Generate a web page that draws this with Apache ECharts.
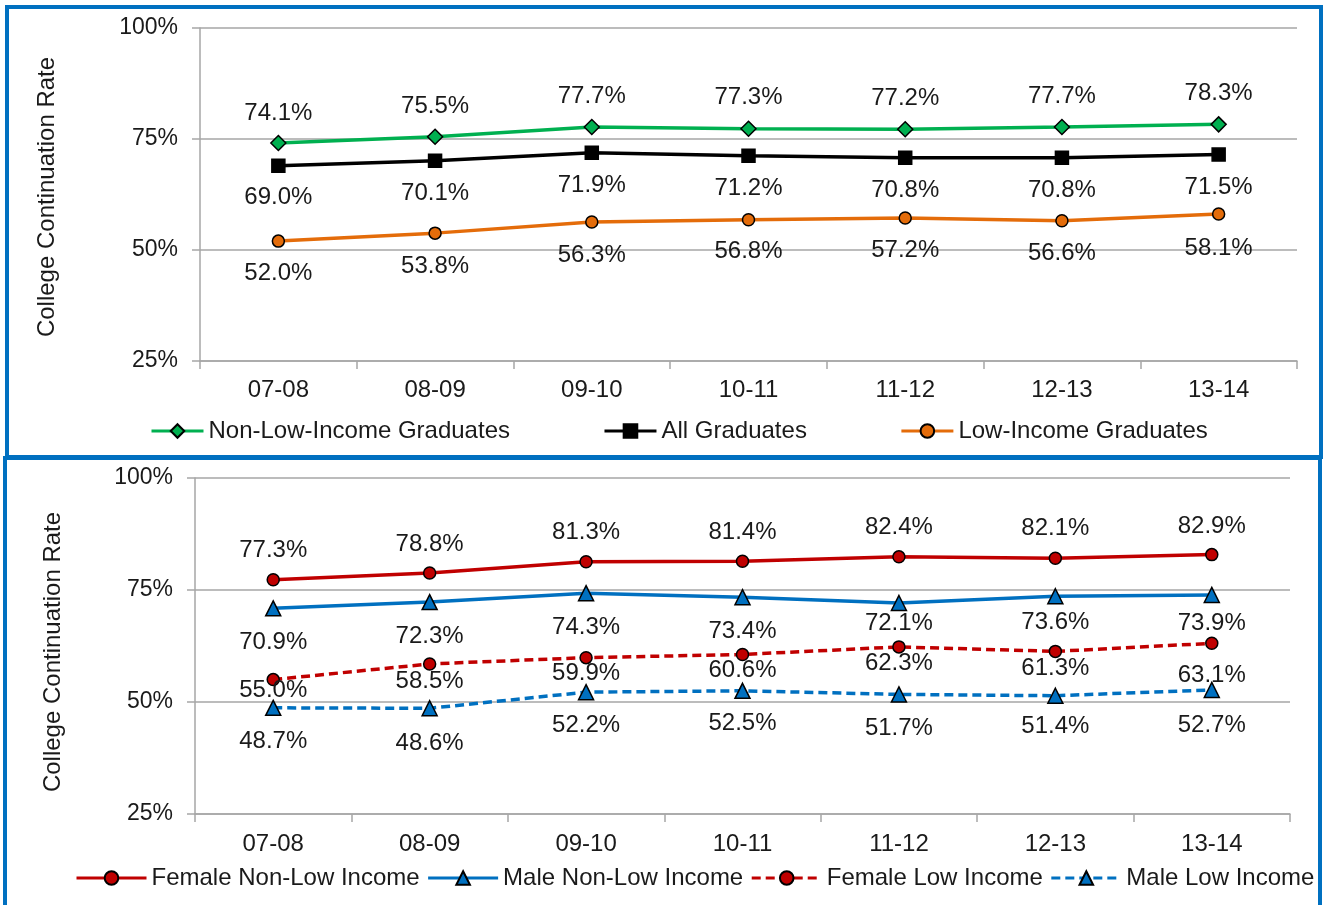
<!DOCTYPE html>
<html>
<head>
<meta charset="utf-8">
<script src="https://cdn.jsdelivr.net/npm/echarts@6/dist/echarts.min.js"></script>
<style>
html,body{margin:0;padding:0;background:#fff;}
#c{width:1325px;height:905px;}
</style>
</head>
<body>
<div id="c"></div>
<script>
// ---- Data ----
const categories = ['07-08', '08-09', '09-10', '10-11', '11-12', '12-13', '13-14'];
const yTicks = [25, 50, 75, 100];

const nonLowIncome = [74.1, 75.5, 77.7, 77.3, 77.2, 77.7, 78.3];
const allGraduates = [69.0, 70.1, 71.9, 71.2, 70.8, 70.8, 71.5];
const lowIncome = [52.0, 53.8, 56.3, 56.8, 57.2, 56.6, 58.1];

const femaleNonLow = [77.3, 78.8, 81.3, 81.4, 82.4, 82.1, 82.9];
const maleNonLow = [70.9, 72.3, 74.3, 73.4, 72.1, 73.6, 73.9];
const femaleLow = [55.0, 58.5, 59.9, 60.6, 62.3, 61.3, 63.1];
const maleLow = [48.7, 48.6, 52.2, 52.5, 51.7, 51.4, 52.7];

// ---- Layout (label vertical offsets from marker centre, px) ----
const dyNonLow = [-30, -30, -31, -31, -31, -31, -31];
const dyAll = [32, 33, 33, 33, 33, 33, 33];
const dyLow = [32, 33, 33, 32, 32, 33, 34];
const dyFemaleNonLow = [-29, -29, -29, -29, -29, -30, -28];
const dyMaleNonLow = [34, 34, 34, 34, 20, 26, 28];
const dyFemaleLow = [11, 17, 16, 16, 16, 17, 32];
const dyMaleLow = [34, 35, 33, 33, 34, 31, 35];

const FONT = '"Liberation Sans", Arial, sans-serif';
const TXT = '#1a1a1a';
const GRID = '#a6a6a6';
const FS = 24;

function withLabels(values, dys) {
  return values.map((v, i) => ({
    value: v,
    label: { offset: [0, dys[i]] }
  }));
}

function mkSeries(name, values, dys, idx, color, symbol, size, dashed) {
  return {
    name: name,
    type: 'line',
    xAxisIndex: idx,
    yAxisIndex: idx,
    data: withLabels(values, dys),
    symbol: symbol,
    symbolSize: size,
    lineStyle: { color: color, width: 3.5, type: dashed ? [9, 5] : 'solid' },
    itemStyle: { color: color, borderColor: '#000', borderWidth: 1.5 },
    emphasis: { disabled: true },
    animation: false,
    label: {
      show: true,
      position: 'inside',
      formatter: p => p.value.toFixed(1) + '%',
      color: TXT,
      fontFamily: FONT,
      fontSize: FS
    },
    z: 3
  };
}

function xAxis(idx, margin) {
  return {
    type: 'category',
    gridIndex: idx,
    data: categories,
    boundaryGap: true,
    axisLine: { show: true, lineStyle: { color: GRID, width: 1.5 } },
    axisTick: { show: true, length: 8, alignWithLabel: false, lineStyle: { color: GRID, width: 1.5 } },
    axisLabel: { color: TXT, fontFamily: FONT, fontSize: FS, margin: margin, interval: 0 },
    splitLine: { show: false }
  };
}

function yAxis(idx, gap, shift) {
  return {
    type: 'value',
    gridIndex: idx,
    min: yTicks[0],
    max: yTicks[yTicks.length - 1],
    interval: yTicks[1] - yTicks[0],
    name: 'College Continuation Rate',
    nameLocation: 'middle',
    nameRotate: 90,
    nameGap: gap,
    nameTextStyle: { color: TXT, fontFamily: FONT, fontSize: FS, padding: [0, shift, 0, 0] },
    axisLine: { show: true, lineStyle: { color: GRID, width: 1.5 } },
    axisTick: { show: true, length: 8, lineStyle: { color: GRID, width: 1.5 } },
    axisLabel: { color: TXT, fontFamily: FONT, fontSize: 23, margin: 22, formatter: '{value}%' },
    splitLine: { show: true, lineStyle: { color: GRID, width: 1.5 } }
  };
}

const chart = echarts.init(document.getElementById('c'), null, { renderer: 'canvas' });

const option = {
  backgroundColor: '#fff',
  animation: false,
  grid: [
    { left: 200, top: 28, width: 1097, height: 333, containLabel: false },
    { left: 195, top: 478, width: 1095, height: 336, containLabel: false }
  ],
  xAxis: [xAxis(0, 17), xAxis(1, 18)],
  yAxis: [yAxis(0, 141, 5), yAxis(1, 130, 12)],
  legend: [
    {
      left: 150, top: 419, padding: 0,
      itemWidth: 52, itemHeight: 17, itemGap: 93,
      lineStyle: { width: 3 },
      textStyle: { color: TXT, fontFamily: FONT, fontSize: FS },
      data: ['Non-Low-Income Graduates', 'All Graduates', 'Low-Income Graduates'],
      selectedMode: false
    },
    {
      left: 75, top: 866, padding: 0,
      itemWidth: 70, itemHeight: 17, itemGap: 7,
      lineStyle: { width: 3 },
      textStyle: { color: TXT, fontFamily: FONT, fontSize: FS },
      data: ['Female Non-Low Income', 'Male Non-Low Income', 'Female Low Income', 'Male Low Income'],
      selectedMode: false
    }
  ],
  graphic: [
    { type: 'rect', shape: { x: 7, y: 7, width: 1314, height: 450 }, style: { fill: 'none', stroke: '#0070C0', lineWidth: 4 }, z: 10 },
    { type: 'rect', shape: { x: 5, y: 458, width: 1315, height: 470 }, style: { fill: 'none', stroke: '#0070C0', lineWidth: 4 }, z: 10 }
  ],
  series: [
    mkSeries('Non-Low-Income Graduates', nonLowIncome, dyNonLow, 0, '#00B050', 'diamond', 15, false),
    mkSeries('All Graduates', allGraduates, dyAll, 0, '#000000', 'rect', 13, false),
    mkSeries('Low-Income Graduates', lowIncome, dyLow, 0, '#E46C0A', 'circle', 12, false),
    mkSeries('Female Non-Low Income', femaleNonLow, dyFemaleNonLow, 1, '#C00000', 'circle', 12, false),
    mkSeries('Male Non-Low Income', maleNonLow, dyMaleNonLow, 1, '#0070C0', 'triangle', 15, false),
    mkSeries('Female Low Income', femaleLow, dyFemaleLow, 1, '#C00000', 'circle', 12, true),
    mkSeries('Male Low Income', maleLow, dyMaleLow, 1, '#0070C0', 'triangle', 15, true)
  ]
};
chart.setOption(option);
</script>
</body>
</html>
